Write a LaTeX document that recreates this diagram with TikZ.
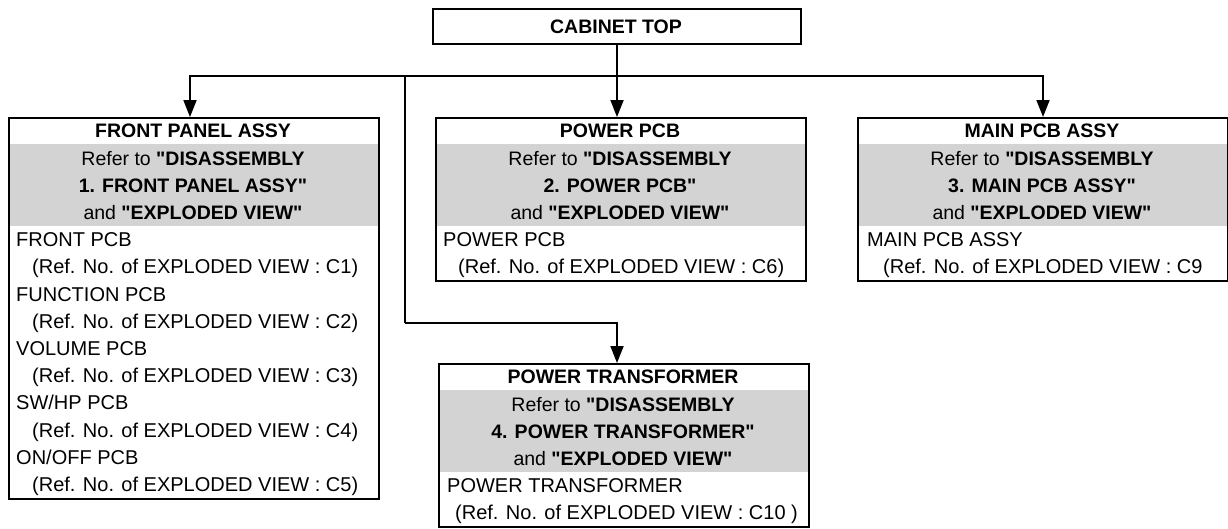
\documentclass[tikz,border=0pt]{standalone}
\usepackage{fontspec}
\setmainfont{Liberation Sans}[Ligatures=TeXOff]
\usetikzlibrary{arrows.meta}
\definecolor{bandgrey}{RGB}{211,211,211}
\begin{document}
\begin{tikzpicture}[x=1pt,y=-1pt,
  boxst/.style={draw, line width=2pt, anchor=north west, inner sep=0pt, minimum width=370pt, minimum height=163.2pt},
  band/.style={fill=bandgrey},
  ttl/.style={anchor=base, inner sep=0pt, font=\fontsize{19.5}{23}\selectfont\bfseries},
  txt/.style={anchor=base, inner sep=0pt, font=\fontsize{19.5}{23}\selectfont},
  itm/.style={anchor=base west, inner sep=0pt, font=\fontsize{20}{24}\selectfont},
  wire/.style={line width=1.8pt},
  conn/.style={line width=1.8pt, -{Triangle[width=13pt,length=17pt]}}]
\useasboundingbox (0,0) rectangle (1228,528);

% CABINET TOP
\node[boxst, minimum width=368pt, minimum height=35pt] (cab) at (432,8) {};
\node[ttl] (cabt) at (616,33) {CABINET TOP};

% FRONT PANEL ASSY
\fill[band] (8,{117+27.2}) rectangle (378,{117+27.2*4});
\node[boxst, minimum height=381pt] (fp) at (8,117) {};
\node[ttl] (fp0) at (193,{117+20.8}) {FRONT PANEL ASSY};
\node[txt] (fp1) at (193,{117+20.8+27.2*1}) {Refer to \textbf{"DISASSEMBLY}};
\node[ttl] (fp2) at (193,{117+20.8+27.2*2}) {1. FRONT PANEL ASSY"};
\node[txt] (fp3) at (193,{117+20.8+27.2*3}) {and \textbf{"EXPLODED VIEW"}};
\node[itm] (fp4) at (16,{117+20.8+27.2*4}) {FRONT PCB};
\node[itm] (fp5) at (32,{117+20.8+27.2*5}) {(Ref. No. of EXPLODED VIEW : C1)};
\node[itm] (fp6) at (16,{117+20.8+27.2*6}) {FUNCTION PCB};
\node[itm] (fp7) at (32,{117+20.8+27.2*7}) {(Ref. No. of EXPLODED VIEW : C2)};
\node[itm] (fp8) at (16,{117+20.8+27.2*8}) {VOLUME PCB};
\node[itm] (fp9) at (32,{117+20.8+27.2*9}) {(Ref. No. of EXPLODED VIEW : C3)};
\node[itm] (fp10) at (16,{117+20.8+27.2*10}) {SW/HP PCB};
\node[itm] (fp11) at (32,{117+20.8+27.2*11}) {(Ref. No. of EXPLODED VIEW : C4)};
\node[itm] (fp12) at (16,{117+20.8+27.2*12}) {ON/OFF PCB};
\node[itm] (fp13) at (32,{117+20.8+27.2*13}) {(Ref. No. of EXPLODED VIEW : C5)};

% POWER PCB
\fill[band] (435,{117+27.2}) rectangle (805,{117+27.2*4});
\node[boxst] (pp) at (435,117) {};
\node[ttl] (pp0) at (620,{117+20.8}) {POWER PCB};
\node[txt] (pp1) at (620,{117+20.8+27.2*1}) {Refer to \textbf{"DISASSEMBLY}};
\node[ttl] (pp2) at (620,{117+20.8+27.2*2}) {2. POWER PCB"};
\node[txt] (pp3) at (620,{117+20.8+27.2*3}) {and \textbf{"EXPLODED VIEW"}};
\node[itm] (pp4) at (443,{117+20.8+27.2*4}) {POWER PCB};
\node[itm] (pp5) at (458,{117+20.8+27.2*5}) {(Ref. No. of EXPLODED VIEW : C6)};

% MAIN PCB ASSY
\fill[band] (857,{117+27.2}) rectangle (1227,{117+27.2*4});
\node[boxst] (mp) at (857,117) {};
\node[ttl] (mp0) at (1042,{117+20.8}) {MAIN PCB ASSY};
\node[txt] (mp1) at (1042,{117+20.8+27.2*1}) {Refer to \textbf{"DISASSEMBLY}};
\node[ttl] (mp2) at (1042,{117+20.8+27.2*2}) {3. MAIN PCB ASSY"};
\node[txt] (mp3) at (1042,{117+20.8+27.2*3}) {and \textbf{"EXPLODED VIEW"}};
\node[itm] (mp4) at (867,{117+20.8+27.2*4}) {MAIN PCB ASSY};
\node[itm] (mp5) at (883,{117+20.8+27.2*5}) {(Ref. No. of EXPLODED VIEW : C9};

% POWER TRANSFORMER
\fill[band] (438,{363+27.2}) rectangle (808,{363+27.2*4});
\node[boxst] (pt) at (438,363) {};
\node[ttl] (pt0) at (623,{363+20.8}) {POWER TRANSFORMER};
\node[txt] (pt1) at (623,{363+20.8+27.2*1}) {Refer to \textbf{"DISASSEMBLY}};
\node[ttl] (pt2) at (623,{363+20.8+27.2*2}) {4. POWER TRANSFORMER"};
\node[txt] (pt3) at (623,{363+20.8+27.2*3}) {and \textbf{"EXPLODED VIEW"}};
\node[itm] (pt4) at (447,{363+20.8+27.2*4}) {POWER TRANSFORMER};
\node[itm] (pt5) at (455,{363+20.8+27.2*5}) {(Ref. No. of EXPLODED VIEW : C10 )};

% connectors
\coordinate (hub) at (616,76);
\coordinate (branch) at (405,76);
\coordinate (turn) at (405,323);
\draw[conn] (cab.south) -- (cab.south |- pp.north);
\draw[conn] (hub) -| (190,117) coordinate (fpin);
\draw[conn] (hub) -| (mp.north);
\draw[wire] (branch) -- (turn);
\draw[conn] (turn) -| (cab.south |- pt.north);
\end{tikzpicture}
\end{document}
